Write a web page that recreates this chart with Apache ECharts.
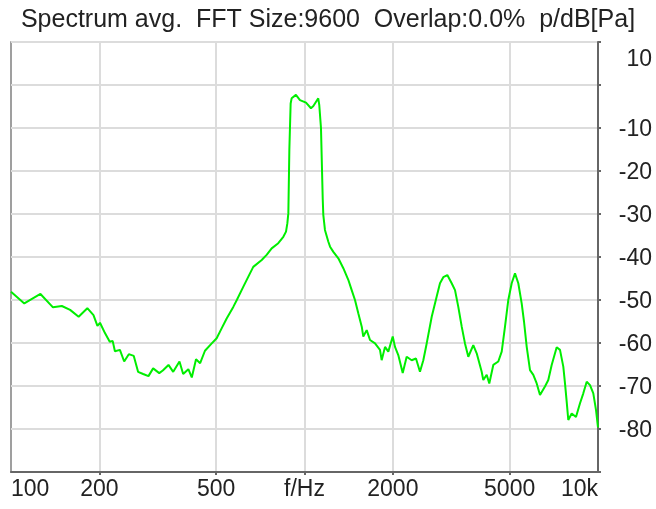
<!DOCTYPE html>
<html>
<head>
<meta charset="utf-8">
<script src="https://cdn.jsdelivr.net/npm/echarts@6/dist/echarts.min.js"></script>
<style>
  html, body { margin: 0; padding: 0; background: #fff; }
  #chart { width: 656px; height: 509px; }
</style>
</head>
<body>
<div id="chart"></div>
<script>
// frequency bins (Hz) and averaged level (dB re Pa)
const freqs = [
  100, 111, 126, 139, 149, 159, 170, 182, 191, 197, 201, 209, 217, 222, 226, 235, 243, 252, 262, 271,
  282, 294, 305, 320, 329, 344, 357, 375, 386, 402, 413, 427, 441, 458, 483, 502, 522, 543, 572, 588,
  619, 652, 669, 715, 743, 773, 814, 847, 865, 874, 881, 888, 897, 904, 935, 965, 1012, 1052, 1072, 1114,
  1123, 1138, 1154, 1159, 1174, 1205, 1222, 1254, 1304, 1356, 1410, 1448, 1486, 1525, 1567, 1586, 1629, 1672, 1739, 1808,
  1832, 1881, 1930, 1998, 2034, 2087, 2161, 2229, 2318, 2398, 2474, 2540, 2608, 2713, 2821, 2895, 2971, 3066, 3173, 3257,
  3342, 3433, 3522, 3615, 3759, 3861, 4015, 4066, 4176, 4262, 4398, 4574, 4698, 4821, 4947, 5081, 5214, 5351, 5495, 5596,
  5716, 5866, 6020, 6182, 6344, 6597, 6771, 6953, 7232, 7422, 7617, 7719, 7823, 7921, 8135, 8414, 8684, 8911, 9152, 9392,
  9638, 9846, 10000
]
const levels = [
  -48.1, -50.8, -48.6, -51.7, -51.4, -52.3, -53.9, -51.9, -53.5, -56.0, -55.3, -57.7, -59.7, -59.5, -61.9, -61.6, -64.3, -62.6, -63.0, -66.7,
  -67.2, -67.7, -65.9, -67.0, -66.4, -65.1, -66.7, -64.3, -67.2, -66.1, -68.0, -63.8, -64.7, -61.8, -60.1, -58.9, -56.6, -54.3, -51.6, -50.0,
  -46.9, -43.8, -42.3, -40.7, -39.5, -38.0, -36.8, -35.3, -34.1, -32.2, -29.8, -15.0, -4.3, -3.1, -2.3, -3.5, -4.1, -5.4, -4.9, -3.1,
  -4.7, -10.0, -26.7, -30.2, -33.7, -36.4, -37.6, -38.8, -40.3, -42.6, -45.3, -47.7, -50.0, -53.1, -56.2, -58.5, -57.0, -59.3, -60.1, -61.6,
  -64.0, -60.9, -62.0, -58.5, -60.9, -62.8, -67.0, -63.2, -64.0, -63.6, -66.7, -64.0, -60.1, -53.9, -49.2, -46.1, -44.7, -44.2, -46.1, -47.7,
  -51.6, -56.2, -60.1, -63.2, -60.5, -62.4, -66.7, -68.6, -67.4, -69.4, -65.1, -64.3, -62.0, -56.2, -50.0, -46.1, -43.8, -46.1, -50.8, -55.0,
  -60.9, -66.3, -67.4, -69.4, -72.1, -70.1, -68.6, -65.1, -61.0, -61.6, -65.5, -69.4, -73.7, -77.9, -76.4, -77.2, -74.0, -71.7, -69.0, -69.8,
  -71.7, -75.6, -79.6
]

const xTicks = [200, 500, 1000, 2000, 5000]
const xLabels = [100, 200, 500, 1000, 2000, 5000, 10000]
const xLabelText = { 1000: 'f/Hz', 10000: '10k' }
const yHiddenLabels = [0, -90]

const chart = echarts.init(document.getElementById('chart'))

const textColor = '#222'
const fontFamily = 'Liberation Sans, Arial, sans-serif'
const labelSize = 23

chart.setOption({
  animation: false,
  title: {
    text: 'Spectrum avg.  FFT Size:9600  Overlap:0.0%  p/dB[Pa]',
    left: 'center',
    top: 3,
    textStyle: { fontSize: 25, fontWeight: 'normal', color: textColor, fontFamily },
  },
  grid: {
    left: 11,
    right: 58,
    top: 42,
    bottom: 37,
    show: true,
    borderColor: '#808080',
    borderWidth: 1.5,
  },
  xAxis: {
    type: 'log',
    logBase: 10,
    min: 100,
    max: 10000,
    axisLine: { show: true, onZero: false, lineStyle: { color: '#666', width: 2 } },
    axisTick: { show: true, length: 3, customValues: xTicks, lineStyle: { color: '#666', width: 2 } },
    splitLine: { show: true, lineStyle: { color: '#dcdcdc', width: 2 } },
    minorTick: { show: false },
    minorSplitLine: { show: false },
    axisLabel: {
      customValues: xLabels,
      margin: 6,
      fontSize: labelSize,
      color: textColor,
      fontFamily,
      alignMinLabel: 'left',
      alignMaxLabel: 'right',
      formatter: (v) => xLabelText[v] || String(v),
    },
  },
  yAxis: {
    type: 'value',
    position: 'right',
    min: -90,
    max: 10,
    interval: 10,
    axisLine: { show: true, lineStyle: { color: '#666', width: 2 } },
    axisTick: { show: true, length: 3, lineStyle: { color: '#666', width: 2 } },
    splitLine: { show: true, lineStyle: { color: '#dcdcdc', width: 2 } },
    axisLabel: {
      align: 'right',
      margin: 54,
      fontSize: labelSize,
      color: textColor,
      fontFamily,
      padding: [3, 0, 0, 0],
      formatter: (v) => {
        if (yHiddenLabels.includes(v)) return ''
        if (v === 10) return '{top|10}'
        return String(v)
      },
      rich: {
        top: { fontSize: labelSize, color: textColor, fontFamily, padding: [32, 0, 0, 0] },
      },
    },
  },
  series: [
    {
      type: 'line',
      data: freqs.map((f, i) => [f, levels[i]]),
      showSymbol: false,
      lineStyle: { color: '#00ee00', width: 2 },
      itemStyle: { color: '#00ee00' },
    },
  ],
})
</script>
</body>
</html>
